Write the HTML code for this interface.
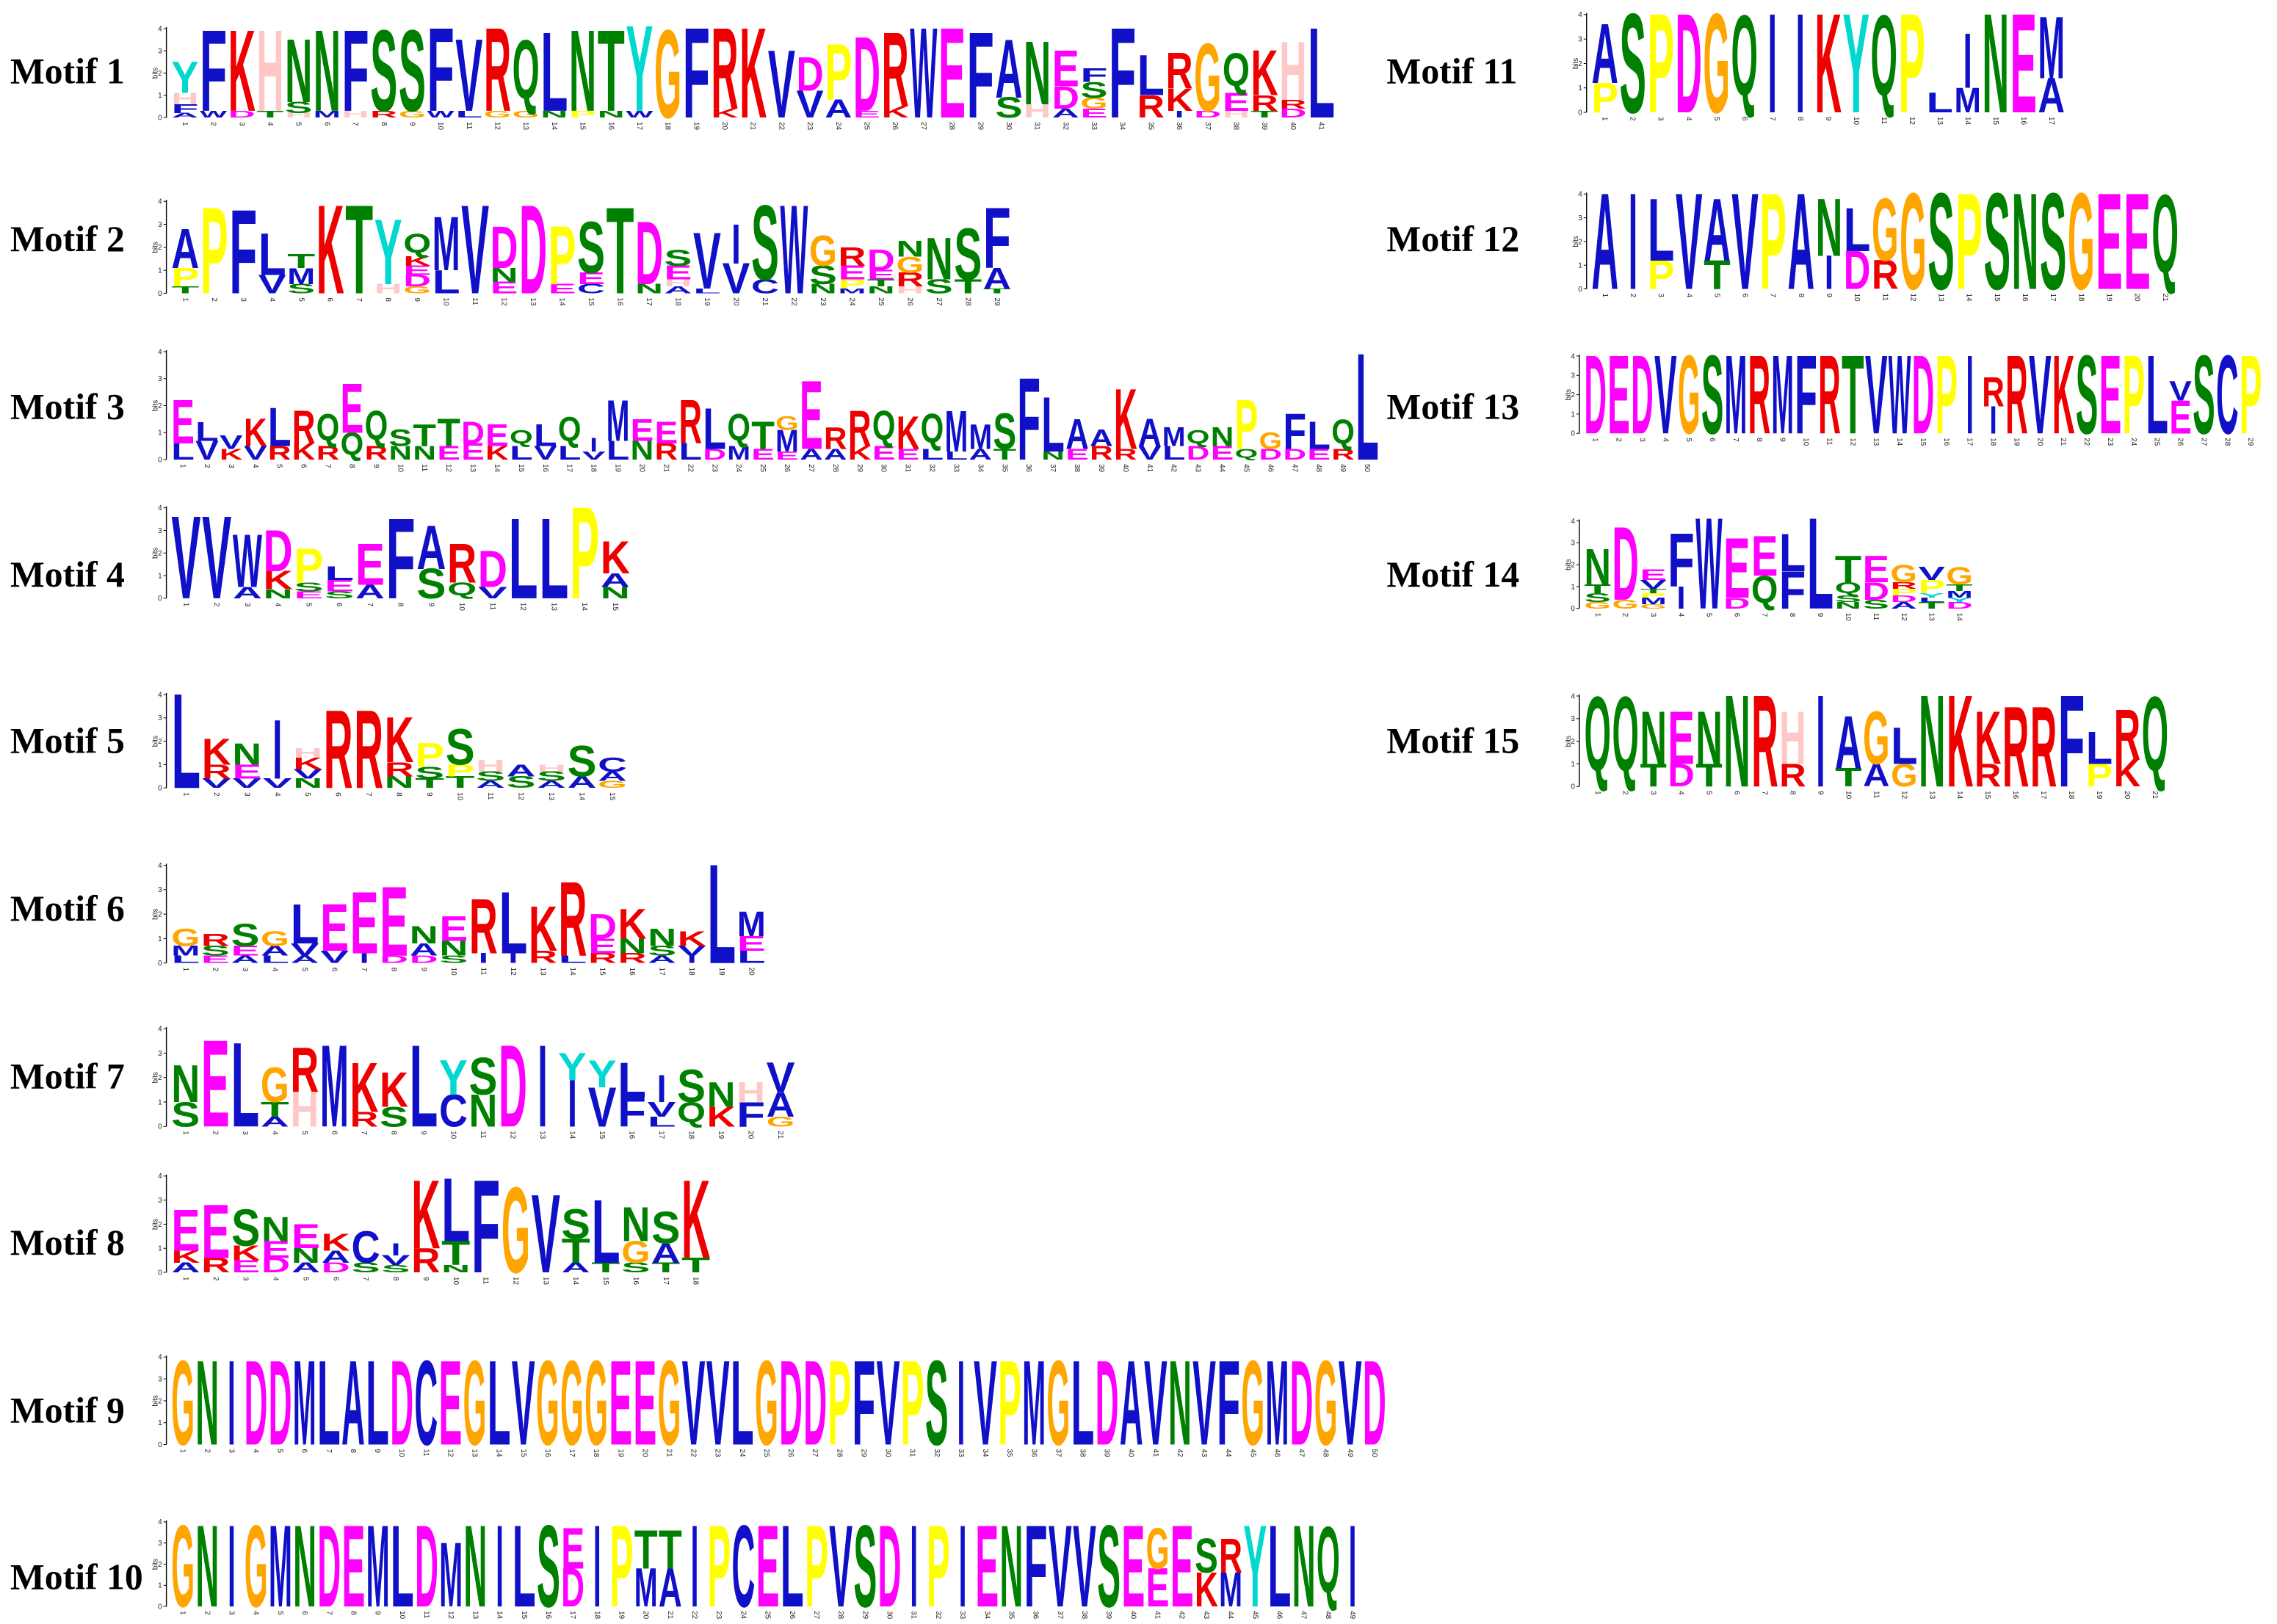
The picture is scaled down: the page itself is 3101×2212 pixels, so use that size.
<!DOCTYPE html>
<html><head><meta charset="utf-8">
<style>
html,body{margin:0;padding:0;background:#fff;}
svg{display:block;}
.lab{font-family:"Liberation Serif",serif;font-weight:bold;font-size:25px;fill:#000;}
.lt{font-family:"Liberation Sans",sans-serif;font-weight:bold;font-size:100px;}
.ax{font-family:"Liberation Sans",sans-serif;font-size:5px;fill:#222;}
</style></head>
<body>
<svg id="s" xmlns="http://www.w3.org/2000/svg" width="3101" height="2212" viewBox="0 0 1560 1113" preserveAspectRatio="none">
<rect width="1560" height="1113" fill="#fff"/>
<text class="lab" x="7" y="57">Motif 1</text>
<text class="lab" x="7" y="172">Motif 2</text>
<text class="lab" x="7" y="287">Motif 3</text>
<text class="lab" x="7" y="402">Motif 4</text>
<text class="lab" x="7" y="516">Motif 5</text>
<text class="lab" x="7" y="631">Motif 6</text>
<text class="lab" x="7" y="746">Motif 7</text>
<text class="lab" x="7" y="860">Motif 8</text>
<text class="lab" x="7" y="975">Motif 9</text>
<text class="lab" x="7" y="1089">Motif 10</text>
<text class="lab" x="950" y="57">Motif 11</text>
<text class="lab" x="950" y="172">Motif 12</text>
<text class="lab" x="950" y="287">Motif 13</text>
<text class="lab" x="950" y="402">Motif 14</text>
<text class="lab" x="950" y="516">Motif 15</text>
</svg>
<script>
var C={A:"#1010c8",C:"#1010c8",F:"#1010c8",I:"#1010c8",L:"#1010c8",M:"#1010c8",V:"#1010c8",W:"#1010c8",
D:"#ff00ff",E:"#ff00ff",G:"#ffa500",H:"#ffc8c8",K:"#ee0000",R:"#ee0000",N:"#008000",Q:"#008000",S:"#008000",T:"#008000",
P:"#ffff00",Y:"#00d8d0",B:"#ff00ff",X:"#1010c8"};
var M=[
[117,915,19.6,80.5,"Y1.4H.5F.4A.2|F3.6W.3|K3.6D.3|H3.6T.3|N2.8S.5H.2|N3.6M.3|F3.6H.3|S3.6R.3|S3.6G.3|F3.7W.3|V3.2L.3|R3.7G.3|Q3.2G.3|L3.5N.3|N3.6P.3|T3.6N.3|Y3.8W.3|G3.9|F4|R3.6K.4|K4|V3|D1.5V1.2|P2.5A.8|D3.3E.3|R3.3K.5|W4|E4|F3.8|A2.6S.9|N2.8H.6|E1.6D1A.4|F.6S.7G.5E.4|F4|L1.8R1|R1.6K1I.3|G3D.3|Q1.8E.8H.3|K2R.7T.3|H2.6R.4D.4|L4"],
[117,693,138,201,"A1.7P.8T.3|P3.7|F3.6|L1.8V.8|T.6M.7S.4|K3.8|T3.8|Y2.8H.4|Q1K.4E.4D.5G.3|M2.3L1|V3.8|D1.8N.6E.5|D3.8|P2.5E.4|S2.2E.5C.4|T3.7|D2.7N.4|S.7E.6H.3A.3|V2.4L.2|I1.7V1.3|S3.2C.6|W3.8|G1.3S.8N.4|R.8E.6P.4M.2|D.9E.4T.3N.3|N.7G.7R.6H.3|N1.8S.6|S2.2T.6|F2.6A.9T.2"],
[117,945,241,315,"E1.6L.6|L.7V.7|V.5K.4|K1V.5|L1.4R.5|R1.2K.6|Q1.2R.5|E1.8Q1|Q1.3R.5|S.6N.5|T.8N.5|T1E.5|D.8E.6|E.8K.5|Q.6L.5|L.8V.5|Q1.1L.5|I.5V.3|M1.5L.7|E.8N.7|E.8R.6|R1.6L.6|L1.5D.4|Q1.2M.5|T1E.4|G.5M.8E.3|E2.5A.4|R.8A.4|R1.3K.5|Q1.3E.5|K1.2E.4|Q1.3L.4|M1.5L.3|M.9A.4|S1.3T.4|F3|L2N.3|A1.1E.4|A.6R.5|K2.2R.4|A1V.5|M.7L.5|Q.6D.5|N.7E.5|P1.8Q.4|G.6D.4|F1.3D.4|L1E.4|Q1.1R.4|L3.9"],
[117,432,348,410,"V3.6|V3.6|W2.3A.5|D1.8K.8N.4|P1.5S.4E.3|L.6E.5S.3|E1.8A.6|F3.5|A1.9S1.3|R1.7Q.7|D1.6V.5|L3.5|L3.5|P4|K1.4A.6N.5"],
[117,430,476,540,"L4|K1.1R.6V.4|N.9E.6V.4|I2.5V.4|H.4K.5V.4N.4|R3.3|R3.3|K1.9R.6N.5|P1S.5T.4|S1.5P.5T.5|H.5S.4A.3|A.5S.5|H.3S.4A.3|S1.3A.5|C.6A.4G.3"],
[117,525,593,660,"G.7M.4L.3|R.5S.4E.3|S.9E.4A.3|G.6A.4L.3|L1.6V.5A.3|E1.9V.5|E2.5I.4|E2.8D.3|N.7A.5D.3|E1N.6S.3|R2.2I.4|L2.5I.4|K1.8R.5|R3L.3|D1E.6R.4|K1.2N.6R.4|N.7S.4A.3|K.6V.4I.3|L4|M1E.6L.5"],
[117,545,705,772,"N1.5S1|E3.5|L3.4|G1.4T.6A.4|R1.8H1.4|M3.3|K2R.6|K1.4S.8|L3.3|Y1.4C1.3|S1.5N1.3|D3.3|I3.3|Y1.1I1.9|Y1.1V1.6|L1.4F1.2|I1.1V.6L.4|S1.3Q1|N1K.8|H.8F1|V1.2A1G.4"],
[117,487,806,872,"E1.7K.5A.4|E2.2R.6|S1.5K.6E.5|N1E.7D.6|E1N.6A.4|K.7A.5D.4|C1.3S.4|I.5V.4S.3|K2.8R1|L2.6T1N.3|F3.8|G3.5|V3.2|S1.2T1A.4|L2.6T.4|N1.4G.9S.4|S1.3A.8T.4|K3.2T.6"],
[117,950,930,990,"GNIDDMLALDCEGLVGGGEEGVVLGDDPFVPSIVPMGLDAVNVFGMDGVD".split("").map(function(c){return c+"3.8";}).join("|")],
[117,935,1043,1101,"G3.8|N3.8|I3.8|G3.8|M3.8|N3.8|D3.8|E3.8|M3.8|L3.8|D3.8|M3|N3.8|I3.8|L3.8|S3.8|E1.9D1.8|I3.8|P3.8|T1.8M1.8|T1.8A1.8|I3.8|P3.8|C3.8|E3.8|L3.8|P3.8|V3.8|S3.8|D3.8|I3.8|P3.8|I3.8|E3.8|N3.8|F3.8|V3.8|V3.8|S3.8|E3.8|G1.9E1.8|E3.8|S1.6K1.6|R1.6M1.6|Y3.8|L3.8|N3.8|Q3.8|I3.8"],
[1090,1415,10,77,"A2.4P1.2|S4|P4|D4|G4|Q4|I4|I4|K4|Y4|Q4|P4|L.8|I2.2M1|N4|E4|M2.5A1.4"],
[1090,1493,133,198,"A4|I4|L2.6P1.2|V4|A2.6T1.2|V4|P4|A4|N2.4I1.4|L1.8D1.6|G2.6R1.2|G4|S4|P4|S4|N4|S4|G4|E4|E4|Q4"],
[1085,1550,244,297,"D4|E4|D4|V4|G4|S4|M4|R4|M4|F4|R4|T4|V4|W4|D4|P4|I4|R1.5I1.4|R4|V4|K4|S4|E4|P4|L4|V1E1.7|S4|C4|P4"],
[1085,1352,357,417,"N1.6T.4S.4G.3|D3.3G.4|E.5V.4T.2P.2M.3G.2|F2.4I1|W4.1|E2.7D.5|E1.8Q1.5|L1.7F1.7|L4.1|T1.2Q.6S.3N.3|E1.2D.8S.4|G.8R.3P.3D.3A.3|V.6P.6Y.2L.2T.3|G.8T.3M.3Y.2D.3"],
[1085,1486,477,539,"Q4|Q4|N2.3T1|E2.3D1|N2.3T1|N4|R4|H2.3R1|I4|A2.3T.8|G2.3A1|L1.6G1|N4|K4|K2.3R1|R3.5|R3.5|F4|L1.4P1|R2.2K1.2|Q4"]
];
var svg=document.getElementById("s"),NS="http://www.w3.org/2000/svg";
function el(t,a,txt){var e=document.createElementNS(NS,t);for(var k in a)e.setAttribute(k,a[k]);if(txt!=null)e.textContent=txt;svg.appendChild(e);return e;}
M.forEach(function(m){
  var x0=m[0],x1=m[1],top=m[2],base=m[3],cols=m[4].split("|");
  var n=cols.length,cw=(x1-x0)/n,bit=(base-top)/4;
  el("line",{x1:x0-3,y1:top-1,x2:x0-3,y2:base,stroke:"#000","stroke-width":0.7});
  for(var b=0;b<=4;b++){var y=base-b*bit;
    el("line",{x1:x0-5,y1:y,x2:x0-3,y2:y,stroke:"#000","stroke-width":0.5});
    el("text",{"class":"ax",x:x0-6,y:y+1.7,"text-anchor":"end"},String(b));}
  el("text",{"class":"ax",transform:"translate("+(x0-9)+","+((top+base)/2)+") rotate(-90)","text-anchor":"middle"},"bits");
  cols.forEach(function(c,i){
    var toks=[],re=/([A-Z])([\d.]+)/g,r;
    while((r=re.exec(c)))toks.push([r[1],parseFloat(r[2])]);
    var yb=base,xl=x0+i*cw;
    for(var j=toks.length-1;j>=0;j--){
      var L=toks[j][0],h=toks[j][1]*bit;if(h<0.3){yb-=h;continue;}
      var sx=cw/100,sy=h/68.8,tx=2,tl=96,ty=0;
      if(L=="I"){tx=34;tl=32;}
      if(L=="Q"){sy=h/85;ty=-15;}
      el("text",{"class":"lt",fill:C[L]||"#000",x:tx,y:ty,textLength:tl,lengthAdjust:"spacingAndGlyphs",
        transform:"translate("+xl+","+yb+") scale("+sx+","+sy+")"},L);
      yb-=h;
    }
    el("text",{"class":"ax",transform:"translate("+(xl+cw/2-1.5)+","+(base+3)+") rotate(90)"},String(i+1));
  });
});
</script>
</body></html>
